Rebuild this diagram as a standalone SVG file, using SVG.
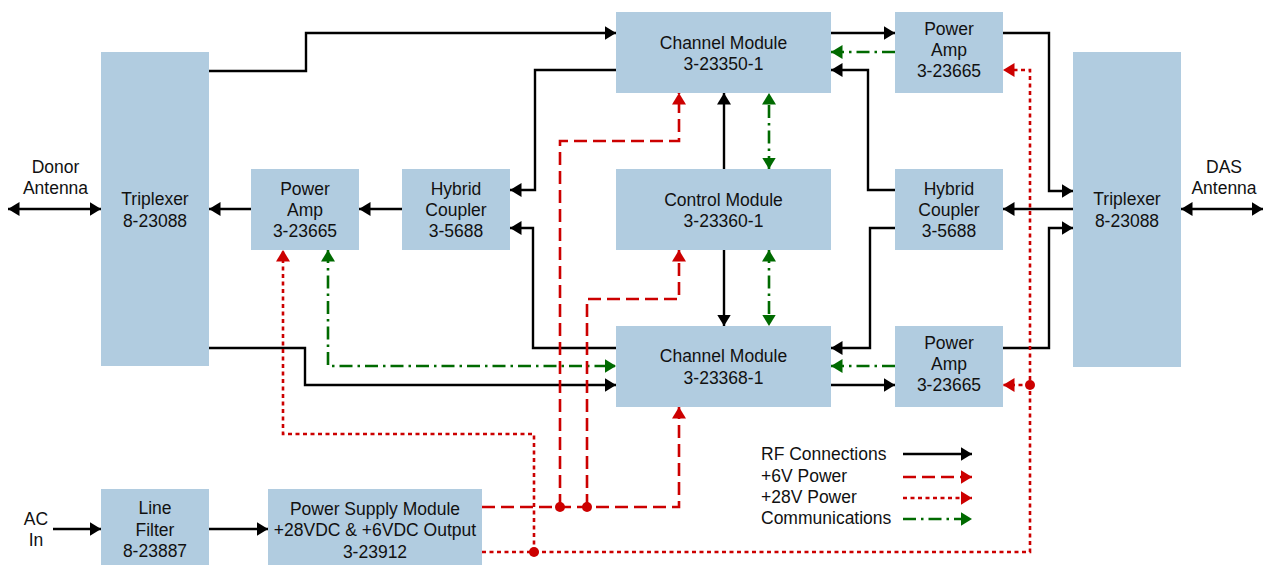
<svg xmlns="http://www.w3.org/2000/svg" width="1264" height="565" viewBox="0 0 1264 565">
<style>
.box{fill:#b1cce0}
text{font-family:"Liberation Sans",Arial,sans-serif;font-size:17.5px;fill:#111;text-anchor:middle}
.lg{text-anchor:start}
.rf{fill:none;stroke:#000;stroke-width:2.4}
.p6{fill:none;stroke:#cc0000;stroke-width:2.6;stroke-dasharray:13,6}
.p28{fill:none;stroke:#cc0000;stroke-width:2.6;stroke-dasharray:4,3.5}
.cm{fill:none;stroke:#006a00;stroke-width:2.6;stroke-dasharray:13,5,2.5,5}
.dot{fill:#cc0000}
</style>
<defs>
<marker id="ak" markerUnits="userSpaceOnUse" markerWidth="13" markerHeight="15" refX="11.5" refY="7" orient="auto-start-reverse"><path d="M0,0 L11.5,7 L0,14 z" fill="#000"/></marker>
<marker id="ar" markerUnits="userSpaceOnUse" markerWidth="13" markerHeight="15" refX="11.5" refY="7" orient="auto-start-reverse"><path d="M0,0 L11.5,7 L0,14 z" fill="#cc0000"/></marker>
<marker id="ag" markerUnits="userSpaceOnUse" markerWidth="13" markerHeight="15" refX="11.5" refY="7" orient="auto-start-reverse"><path d="M0,0 L11.5,7 L0,14 z" fill="#006a00"/></marker>
</defs>

<g id="connectors">
<g id="rf">
<path class="rf" d="M209,71 H306 V33 H616" marker-end="url(#ak)"/>
<path class="rf" d="M616,70 H535 V190 H510" marker-end="url(#ak)"/>
<path class="rf" d="M616,348 H533 V228 H510" marker-end="url(#ak)"/>
<path class="rf" d="M402,209 H359" marker-end="url(#ak)"/>
<path class="rf" d="M251,209 H209" marker-end="url(#ak)"/>
<path class="rf" d="M8,209 H101" marker-start="url(#ak)" marker-end="url(#ak)"/>
<path class="rf" d="M209,348 H305 V385 H616" marker-end="url(#ak)"/>
<path class="rf" d="M831,33 H895" marker-end="url(#ak)"/>
<path class="rf" d="M1003,33 H1049 V191 H1073" marker-end="url(#ak)"/>
<path class="rf" d="M1073,209 H1003" marker-end="url(#ak)"/>
<path class="rf" d="M895,190 H868 V70 H831" marker-end="url(#ak)"/>
<path class="rf" d="M895,228 H870 V348 H831" marker-end="url(#ak)"/>
<path class="rf" d="M831,385 H895" marker-end="url(#ak)"/>
<path class="rf" d="M1003,348 H1049 V228 H1073" marker-end="url(#ak)"/>
<path class="rf" d="M1181,209 H1263" marker-start="url(#ak)" marker-end="url(#ak)"/>
<path class="rf" d="M724,169 V93" marker-end="url(#ak)"/>
<path class="rf" d="M724,250 V326" marker-end="url(#ak)"/>
<path class="rf" d="M53,529 H101" marker-end="url(#ak)"/>
<path class="rf" d="M209,529 H268" marker-end="url(#ak)"/>
</g>
<g id="comms">
<path class="cm" d="M769,169 V93" marker-start="url(#ag)" marker-end="url(#ag)"/>
<path class="cm" d="M769,250 V326" marker-start="url(#ag)" marker-end="url(#ag)"/>
<path class="cm" d="M895,52 H831" marker-end="url(#ag)"/>
<path class="cm" d="M895,366 H831" marker-end="url(#ag)"/>
<path class="cm" d="M328,250 V366 H616" marker-start="url(#ag)" marker-end="url(#ag)"/>
</g>
<g id="power6">
<path class="p6" d="M482,507 H679 V407" marker-end="url(#ar)"/>
<path class="p6" d="M560,507 V141 H679 V93" marker-end="url(#ar)"/>
<path class="p6" d="M587,507 V299 H679 V250" marker-end="url(#ar)"/>
<circle class="dot" cx="560" cy="507" r="5"/>
<circle class="dot" cx="587" cy="507" r="5"/>
</g>
<g id="power28">
<path class="p28" d="M482,552 H1030 V70 H1003" marker-end="url(#ar)"/>
<path class="p28" d="M534,552 V434 H283 V250" marker-end="url(#ar)"/>
<path class="p28" d="M1030,385 H1003" marker-end="url(#ar)"/>
<circle class="dot" cx="534" cy="552" r="5"/>
<circle class="dot" cx="1030" cy="385" r="5"/>
</g>
</g>

<g id="triplexer-left"><rect class="box" x="101" y="52" width="108" height="314"/><text x="155" y="205">Triplexer</text><text x="155" y="226.5">8-23088</text></g>
<g id="triplexer-right"><rect class="box" x="1073" y="52" width="108" height="315"/><text x="1127" y="205">Triplexer</text><text x="1127" y="226.5">8-23088</text></g>
<g id="channel-module-1"><rect class="box" x="616" y="12" width="215" height="81"/><text x="723.5" y="49">Channel Module</text><text x="723.5" y="70">3-23350-1</text></g>
<g id="control-module"><rect class="box" x="616" y="169" width="215" height="81"/><text x="723.5" y="205.5">Control Module</text><text x="723.5" y="226.5">3-23360-1</text></g>
<g id="channel-module-2"><rect class="box" x="616" y="326" width="215" height="81"/><text x="723.5" y="362">Channel Module</text><text x="723.5" y="383.5">3-23368-1</text></g>
<g id="power-amp-tr"><rect class="box" x="895" y="12" width="108" height="81"/><text x="949" y="34.5">Power</text><text x="949" y="56">Amp</text><text x="949" y="77">3-23665</text></g>
<g id="hybrid-right"><rect class="box" x="895" y="169" width="108" height="81"/><text x="949" y="194.5">Hybrid</text><text x="949" y="216">Coupler</text><text x="949" y="237">3-5688</text></g>
<g id="power-amp-br"><rect class="box" x="895" y="326" width="108" height="81"/><text x="949" y="348.5">Power</text><text x="949" y="370">Amp</text><text x="949" y="391">3-23665</text></g>
<g id="power-amp-left"><rect class="box" x="251" y="169" width="108" height="81"/><text x="305" y="194.5">Power</text><text x="305" y="216">Amp</text><text x="305" y="237">3-23665</text></g>
<g id="hybrid-left"><rect class="box" x="402" y="169" width="108" height="81"/><text x="456" y="194.5">Hybrid</text><text x="456" y="216">Coupler</text><text x="456" y="237">3-5688</text></g>
<g id="line-filter"><rect class="box" x="101" y="489" width="108" height="82"/><text x="155" y="514">Line</text><text x="155" y="535.5">Filter</text><text x="155" y="557">8-23887</text></g>
<g id="power-supply"><rect class="box" x="268" y="489" width="214" height="82"/><text x="375" y="514.5">Power Supply Module</text><text x="375" y="536">+28VDC &amp; +6VDC Output</text><text x="375" y="557.5">3-23912</text></g>
<g id="donor-antenna"><text x="55.5" y="173">Donor</text><text x="55.5" y="194">Antenna</text></g>
<g id="das-antenna"><text x="1224" y="173">DAS</text><text x="1224" y="194">Antenna</text></g>
<g id="ac-in"><text x="36" y="525">AC</text><text x="36" y="546">In</text></g>

<g id="legend">
<text class="lg" x="761" y="460">RF Connections</text>
<text class="lg" x="761" y="482">+6V Power</text>
<text class="lg" x="761" y="503">+28V Power</text>
<text class="lg" x="761" y="524">Communications</text>
<path class="rf" d="M903,454 H972" marker-end="url(#ak)"/>
<path class="p6" d="M903,477 H972" marker-end="url(#ar)"/>
<path class="p28" d="M903,498 H972" marker-end="url(#ar)"/>
<path class="cm" d="M903,519 H972" marker-end="url(#ag)"/>
</g>
</svg>
